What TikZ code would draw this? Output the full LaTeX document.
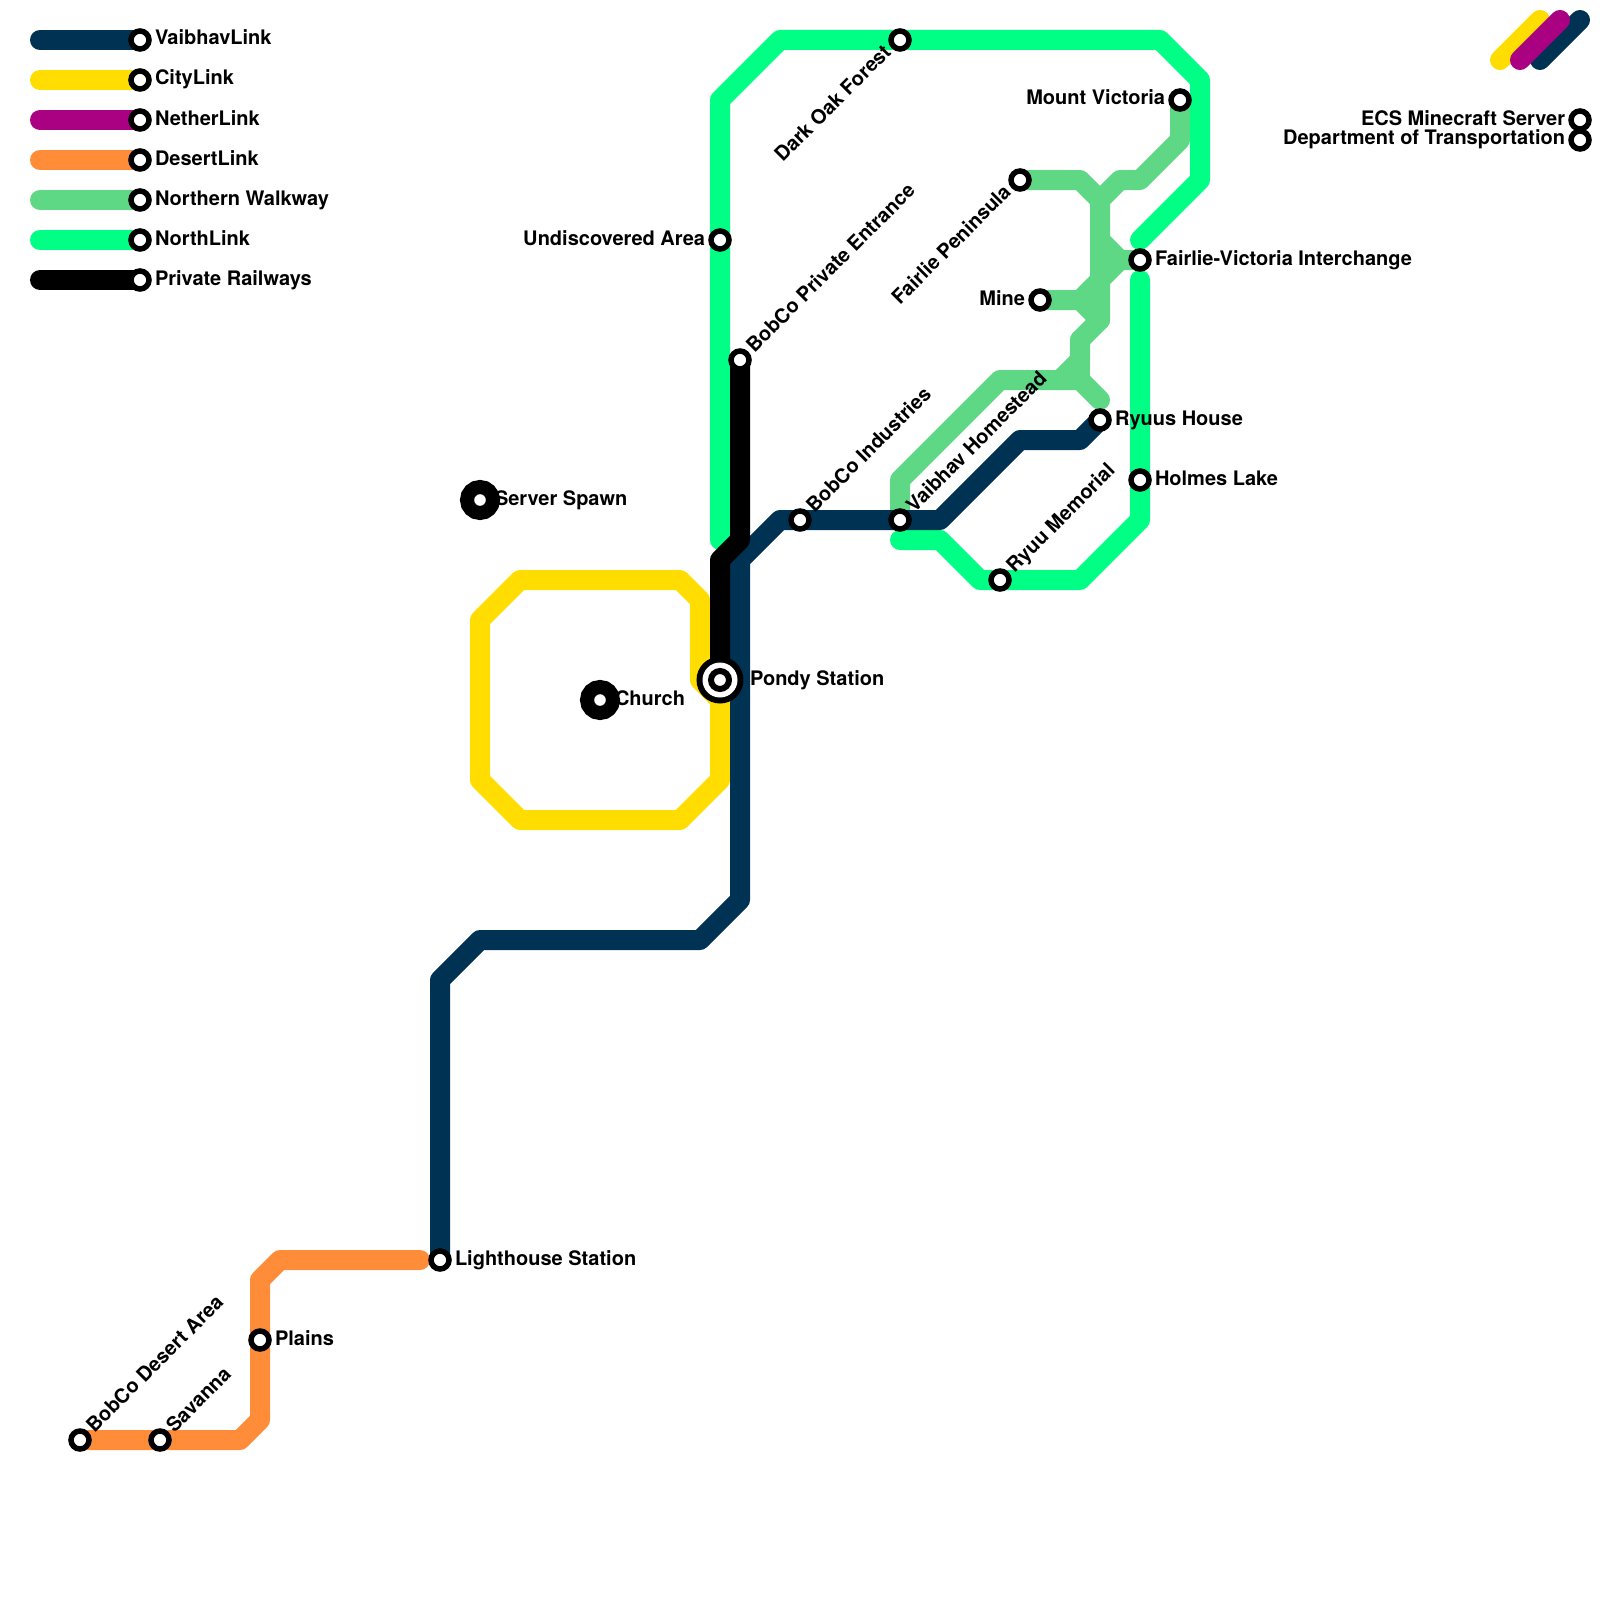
\documentclass[tikz,border=0pt]{standalone}
\usepackage{fontspec}
\setmainfont{TeX Gyre Heros}
\definecolor{cvaibhav}{RGB}{0,50,83}
\definecolor{ccity}{RGB}{255,221,0}
\definecolor{cnether}{RGB}{170,0,130}
\definecolor{cdesert}{RGB}{255,140,56}
\definecolor{cwalk}{RGB}{94,216,133}
\definecolor{cnorth}{RGB}{0,255,133}
\tikzset{
  rail/.style={line width=20pt,line cap=round,line join=round},
  stn/.style={circle,draw=black,fill=white,line width=5.5pt,minimum size=18pt,inner sep=0pt},
  bigstn/.style={circle,draw=black,fill=white,line width=14pt,minimum size=26pt,inner sep=0pt},
  lbl/.style={font=\bfseries\fontsize{20}{20}\selectfont,text=black,inner sep=0pt,outer sep=0pt},
  lblr/.style={lbl,anchor=base west,xshift=15pt,yshift=-5pt},
  lbll/.style={lbl,anchor=base east,xshift=-15pt,yshift=-5pt},
  lblur/.style={lbl,anchor=base west,xshift=14.5pt,yshift=6.5pt,rotate=45},
  lblll/.style={lbl,anchor=base east,xshift=-8pt,yshift=-13.5pt,rotate=45},
}
\begin{document}
\begin{tikzpicture}[x=1pt,y=-1pt]
\useasboundingbox (0,0) rectangle (1600,1600);
% station positions
\coordinate (vl) at (140,40);\coordinate (cl) at (140,80);\coordinate (nl) at (140,120);
\coordinate (dl) at (140,160);\coordinate (wl) at (140,200);\coordinate (ln) at (140,240);
\coordinate (pr) at (140,280);
\coordinate (vl0) at (40,40);\coordinate (cl0) at (40,80);\coordinate (nl0) at (40,120);
\coordinate (dl0) at (40,160);\coordinate (wl0) at (40,200);\coordinate (ln0) at (40,240);
\coordinate (pr0) at (40,280);
\coordinate (lighthouse) at (440,1260);
\coordinate (ryuushouse) at (1100,420);
\coordinate (bobcoind) at (800,520);
\coordinate (vaibhav) at (900,520);
\coordinate (pondy) at (720,680);
\coordinate (bobcopriv) at (740,360);
\coordinate (undisc) at (720,240);
\coordinate (darkoak) at (900,40);
\coordinate (fv) at (1140,260);
\coordinate (holmes) at (1140,480);
\coordinate (ryuumem) at (1000,580);
\coordinate (fairlie) at (1020,180);
\coordinate (mine) at (1040,300);
\coordinate (victoria) at (1180,100);
\coordinate (desertarea) at (80,1440);
\coordinate (savanna) at (160,1440);
\coordinate (plains) at (260,1340);
\coordinate (ecs) at (1580,120);
\coordinate (dot) at (1580,140);
\coordinate (spawn) at (480,500);
\coordinate (church) at (600,700);
% free ends of lines
\coordinate (orangeend) at (420,1260);
\coordinate (ngreenA) at (720,540);
\coordinate (ngreenB) at (1140,240);
\coordinate (ngreenC) at (1140,280);
\coordinate (ngreenD) at (900,540);
\coordinate (walkend) at (1100,400);
\coordinate (hubA) at (1100,200);
\coordinate (hubB) at (1100,320);
\coordinate (hubC) at (1080,380);
% legend lines
\draw[rail,cvaibhav] (vl0) -- (vl);
\draw[rail,ccity] (cl0) -- (cl);
\draw[rail,cnether] (nl0) -- (nl);
\draw[rail,cdesert] (dl0) -- (dl);
\draw[rail,cwalk] (wl0) -- (wl);
\draw[rail,cnorth] (ln0) -- (ln);
\draw[rail,black] (pr0) -- (pr);
% logo
\draw[rail,ccity] (1500,60) -- (1540,20);
\draw[rail,cvaibhav] (1540,60) -- (1580,20);
\draw[rail,cnether] (1520,60) -- (1560,20);
% northern walkway
\draw[rail,cwalk] (vaibhav) -- (900,480) -- (1000,380) -- (1060,380) -- (1080,360) -- (1080,340) -- (hubB) -- (hubA) -- (1120,180) -- (1140,180) -- (1180,140) -- (victoria);
\draw[rail,cwalk] (fairlie) -- (1080,180) -- (hubA);
\draw[rail,cwalk] (mine) -- (1080,300) -- (hubB);
\draw[rail,cwalk] (fv) -- (1120,260) -- (1100,280) -- (1080,300);
\draw[rail,cwalk] (1100,240) -- (1120,260);
\draw[rail,cwalk] (walkend) -- (hubC) -- (1060,380);
\draw[rail,cwalk] (hubC) -- (1080,340);
% desert link
\draw[rail,cdesert] (desertarea) -- (savanna) -- (240,1440) -- (260,1420) -- (plains) -- (260,1280) -- (280,1260) -- (orangeend);
% city link
\draw[rail,ccity] (pondy) -- (720,780) -- (680,820) -- (520,820) -- (480,780) -- (480,620) -- (520,580) -- (680,580) -- (700,600) -- (700,680) -- (720,700);
% north link
\draw[rail,cnorth] (ngreenA) -- (undisc) -- (720,100) -- (780,40) -- (darkoak) -- (1160,40) -- (1200,80) -- (1200,180) -- (ngreenB);
\draw[rail,cnorth] (ngreenC) -- (holmes) -- (1140,520) -- (1080,580) -- (ryuumem) -- (980,580) -- (940,540) -- (ngreenD);
% vaibhav link
\draw[rail,cvaibhav] (lighthouse) -- (440,980) -- (480,940) -- (700,940) -- (740,900) -- (740,560) -- (780,520) -- (bobcoind) -- (vaibhav) -- (940,520) -- (1020,440) -- (1080,440) -- (ryuushouse);
% private railways
\draw[rail,black] (pondy) -- (720,560) -- (740,540) -- (bobcopriv);
% stations
\foreach \n in {vl,cl,nl,dl,wl,ln,pr,lighthouse,ryuushouse,bobcoind,vaibhav,bobcopriv,undisc,darkoak,fv,holmes,ryuumem,fairlie,mine,victoria,desertarea,savanna,plains,ecs,dot}
  \node[stn] (s-\n) at (\n) {};
\node[circle,fill=black,minimum size=47pt,inner sep=0pt] (s-pondy-o) at (pondy) {};
\node[circle,fill=white,minimum size=35pt,inner sep=0pt] (s-pondy-w) at (pondy) {};
\node[circle,draw=black,fill=white,line width=6pt,minimum size=18pt,inner sep=0pt] (s-pondy) at (pondy) {};
\node[bigstn] (s-spawn) at (spawn) {};
\node[bigstn] (s-church) at (church) {};
% legend labels
\node[lblr] (t-vl) at (vl) {VaibhavLink};
\node[lblr] (t-cl) at (cl) {CityLink};
\node[lblr] (t-nl) at (nl) {NetherLink};
\node[lblr] (t-dl) at (dl) {DesertLink};
\node[lblr] (t-wl) at (wl) {Northern Walkway};
\node[lblr] (t-ln) at (ln) {NorthLink};
\node[lblr] (t-pr) at (pr) {Private Railways};
% station labels
\node[lblr] (t-lighthouse) at (lighthouse) {Lighthouse Station};
\node[lblr] (t-plains) at (plains) {Plains};
\node[lblr] (t-ryuushouse) at (ryuushouse) {Ryuus House};
\node[lblr] (t-holmes) at (holmes) {Holmes Lake};
\node[lblr] (t-fv) at (fv) {Fairlie-Victoria Interchange};
\node[lblr] (t-spawn) at (spawn) {Server Spawn};
\node[lblr] (t-church) at (church) {Church};
\node[lblr,xshift=15pt] (t-pondy) at (pondy) {Pondy Station};
\node[lbll] (t-undisc) at (undisc) {Undiscovered Area};
\node[lbll] (t-mine) at (mine) {Mine};
\node[lbll] (t-victoria) at (victoria) {Mount Victoria};
\node[lbll] (t-ecs) at (ecs) {ECS Minecraft Server};
\node[lbll] (t-dot) at (dot) {Department of Transportation};
\node[lblur] (t-desertarea) at (desertarea) {BobCo Desert Area};
\node[lblur] (t-savanna) at (savanna) {Savanna};
\node[lblur] (t-bobcoind) at (bobcoind) {BobCo Industries};
\node[lblur] (t-vaibhav) at (vaibhav) {Vaibhav Homestead};
\node[lblur] (t-ryuumem) at (ryuumem) {Ryuu Memorial};
\node[lblur] (t-bobcopriv) at (bobcopriv) {BobCo Private Entrance};
\node[lblll] (t-darkoak) at (darkoak) {Dark Oak Forest};
\node[lblll] (t-fairlie) at (fairlie) {Fairlie Peninsula};
\end{tikzpicture}
\end{document}
